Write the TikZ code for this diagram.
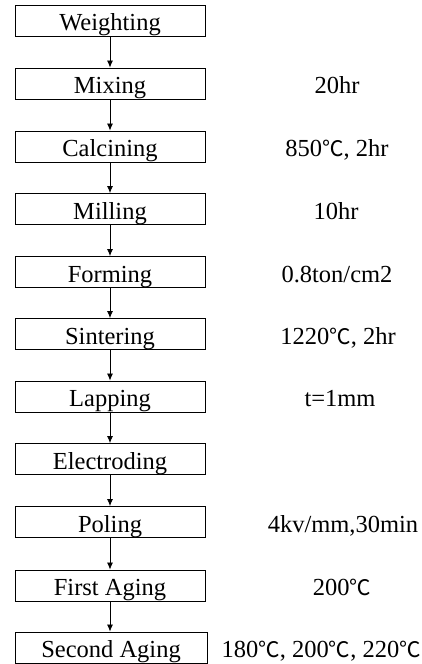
\documentclass[tikz,border=0pt]{standalone}
\usepackage{fontspec}
\setmainfont{Liberation Serif}
\newfontfamily\cjk{Noto Sans CJK KR}
\usepackage{tikz}
\usetikzlibrary{arrows.meta}
\newcommand{\dgc}{{\cjk\fontsize{21.5}{25}\selectfont ℃}}

\begin{document}
\begin{tikzpicture}[x=1pt, y=-1pt,
    stepbox/.style={rectangle, draw, line width=0.9pt, minimum width=190pt, minimum height=31pt, inner sep=0pt, text height=20pt, text depth=0pt, font=\fontsize{24.5}{28}\selectfont},
    cond/.style={font=\fontsize{24.5}{28}\selectfont, inner sep=0pt, text height=20pt, text depth=0pt},
    flow/.style={-{Latex[length=7pt, width=6pt]}, line width=0.8pt}]
    \useasboundingbox (0,0) rectangle (421,664);
    % Process steps
    \node[stepbox] (weigh) at (110,20.5) {Weighting};
    \node[stepbox] (mix) at (110,83.5) {Mixing};
    \node[stepbox] (calc) at (110,146.5) {Calcining};
    \node[stepbox] (mill) at (110,209) {Milling};
    \node[stepbox] (form) at (110,272) {Forming};
    \node[stepbox] (sinter) at (110,334) {Sintering};
    \node[stepbox] (lap) at (110,396.5) {Lapping};
    \node[stepbox] (electrode) at (110,459) {Electroding};
    \node[stepbox] (pole) at (110,522) {Poling};
    \node[stepbox] (age1) at (110,585.5) {First Aging};
    \node[stepbox, minimum width=192pt] (age2) at (111,647.5) {Second Aging};

    % Conditions
    \node[cond] (mixc) at (337,83.5) {20hr};
    \node[cond] (calcc) at (337,146.5) {850\dgc, 2hr};
    \node[cond] (millc) at (336,209) {10hr};
    \node[cond] (formc) at (337,272) {0.8ton/cm2};
    \node[cond] (sinterc) at (338,334) {1220\dgc, 2hr};
    \node[cond] (lapc) at (340,396.5) {t=1mm};
    \node[cond] (polec) at (343,522) {4kv/mm,30min};
    \node[cond] (age1c) at (342,585.5) {200\dgc};
    \node[cond, anchor=east] (age2c) at (421,647.5) {180\dgc, 200\dgc, 220\dgc};

    % Arrows
    \draw[flow] (weigh) -- (mix);
    \draw[flow] (mix) -- (calc);
    \draw[flow] (calc) -- (mill);
    \draw[flow] (mill) -- (form);
    \draw[flow] (form) -- (sinter);
    \draw[flow] (sinter) -- (lap);
    \draw[flow] (lap) -- (electrode);
    \draw[flow] (electrode) -- (pole);
    \draw[flow] (pole) -- (age1);
    \draw[flow] (age1) -- (age2.north -| age1.south);
\end{tikzpicture}
\end{document}
